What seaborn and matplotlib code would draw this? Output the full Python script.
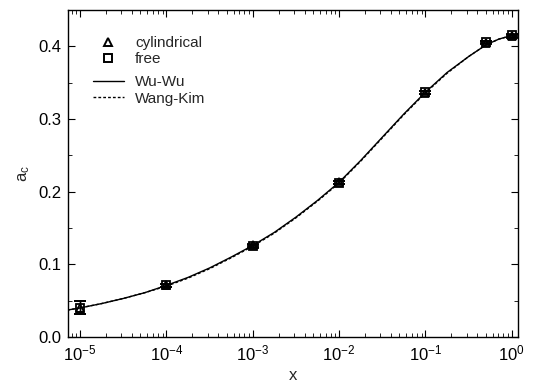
import numpy as np
import pandas as pd
import matplotlib
matplotlib.use("Agg")
import matplotlib.pyplot as plt
import seaborn as sns
from matplotlib.lines import Line2D
from matplotlib.ticker import LogLocator, MultipleLocator, NullFormatter, FormatStrFormatter

# ── Data ──────────────────────────────────────────────────────────────────────
x_pts      = [1e-5, 1e-4, 1e-3, 1e-2, 1e-1, 0.5, 1.0]
a_cyl      = [0.040, 0.071, 0.126, 0.213, 0.336, 0.405, 0.414]
a_cyl_err  = [0.009, 0.002, 0.002, 0.002, 0.002, 0.002, 0.002]
a_free     = [0.040, 0.071, 0.125, 0.212, 0.337, 0.406, 0.415]
a_free_err = [0.009, 0.002, 0.002, 0.002, 0.002, 0.002, 0.002]

log_x_curve = [-5.15, -5.0, -4.75, -4.5, -4.25, -4.0, -3.75, -3.5, -3.25, -3.0,
               -2.75, -2.5, -2.25, -2.0, -1.75, -1.5, -1.25, -1.0, -0.75, -0.5,
               -0.3, -0.15, 0.0, 0.07]
a_wuwu      = [0.037, 0.040, 0.046, 0.053, 0.061, 0.071, 0.082, 0.095, 0.110, 0.126,
               0.144, 0.165, 0.188, 0.213, 0.243, 0.275, 0.307, 0.337, 0.364, 0.386,
               0.402, 0.410, 0.415, 0.417]
a_wangkim   = [0.037, 0.040, 0.046, 0.053, 0.061, 0.070, 0.081, 0.094, 0.109, 0.125,
               0.143, 0.164, 0.187, 0.212, 0.242, 0.274, 0.306, 0.336, 0.363, 0.386,
               0.402, 0.410, 0.415, 0.417]

curves = pd.DataFrame({
    "x": np.power(10.0, log_x_curve),
    "Wu-Wu": a_wuwu,
    "Wang-Kim": a_wangkim,
})

DASH = (0, (2, 1.5))

# ── Style ─────────────────────────────────────────────────────────────────────
sns.set_style("ticks")
plt.rcParams["font.family"] = ["Liberation Sans", "DejaVu Sans"]
plt.rcParams["mathtext.default"] = "regular"
plt.rcParams["mathtext.fontset"] = "custom"
plt.rcParams["mathtext.rm"] = "Liberation Sans"
plt.rcParams["font.size"] = 11

fig = plt.figure(figsize=(5.4, 3.86), dpi=100)
ax = fig.add_axes([0.126, 0.127, 0.833, 0.847])

# points
for y, err, mk in [(a_cyl, a_cyl_err, "^"), (a_free, a_free_err, "s")]:
    ax.errorbar(x_pts, y, yerr=err, fmt=mk, mfc="none", mec="black",
                ms=6, mew=1.3, ecolor="black", elinewidth=1, capsize=4,
                capthick=1.2, zorder=3)

# curves
sns.lineplot(data=curves, x="x", y="Wu-Wu", color="black", lw=1.0, ax=ax)
sns.lineplot(data=curves, x="x", y="Wang-Kim", color="black", lw=1.0,
             linestyle=DASH, ax=ax)

ax.set_xscale("log")
ax.set_xlim(10 ** -5.14, 10 ** 0.07)
ax.set_ylim(0.0, 0.45)
ax.xaxis.set_major_locator(LogLocator(base=10, numticks=10))
ax.xaxis.set_minor_locator(LogLocator(base=10, subs=np.arange(2, 10), numticks=20))
ax.xaxis.set_minor_formatter(NullFormatter())
ax.yaxis.set_major_locator(MultipleLocator(0.1))
ax.yaxis.set_minor_locator(MultipleLocator(0.05))
ax.yaxis.set_major_formatter(FormatStrFormatter("%.1f"))

ax.tick_params(which="both", direction="in", top=True, right=True,
               labelsize=12, pad=5, colors="black")
ax.tick_params(which="major", length=5)
ax.tick_params(which="minor", length=3)
for s in ax.spines.values():
    s.set_linewidth(1.0)
    s.set_color("black")

ax.set_xlabel("x", fontsize=12, labelpad=3)
ax.set_ylabel("a$_c$", fontsize=12, labelpad=4)

# legends: symbols group, then lines group
sym_handles = [
    Line2D([], [], marker="^", ls="none", mfc="none", mec="black", ms=6, mew=1.4),
    Line2D([], [], marker="s", ls="none", mfc="none", mec="black", ms=6, mew=1.4),
]
line_handles = [
    Line2D([], [], color="black", lw=1.0),
    Line2D([], [], color="black", lw=1.0, ls=DASH),
]
leg_kw = dict(loc="upper left", frameon=False, fontsize=11, handlelength=2.0,
              handletextpad=0.75, labelspacing=0.15, borderpad=0, borderaxespad=0)
leg1 = ax.legend(sym_handles, ["cylindrical", "free"],
                 bbox_to_anchor=(0.0556, 0.92), **leg_kw)
ax.add_artist(leg1)
ax.legend(line_handles, ["Wu-Wu", "Wang-Kim"],
          bbox_to_anchor=(0.0556, 0.80), **leg_kw)

fig.savefig("out.png", dpi=100)
